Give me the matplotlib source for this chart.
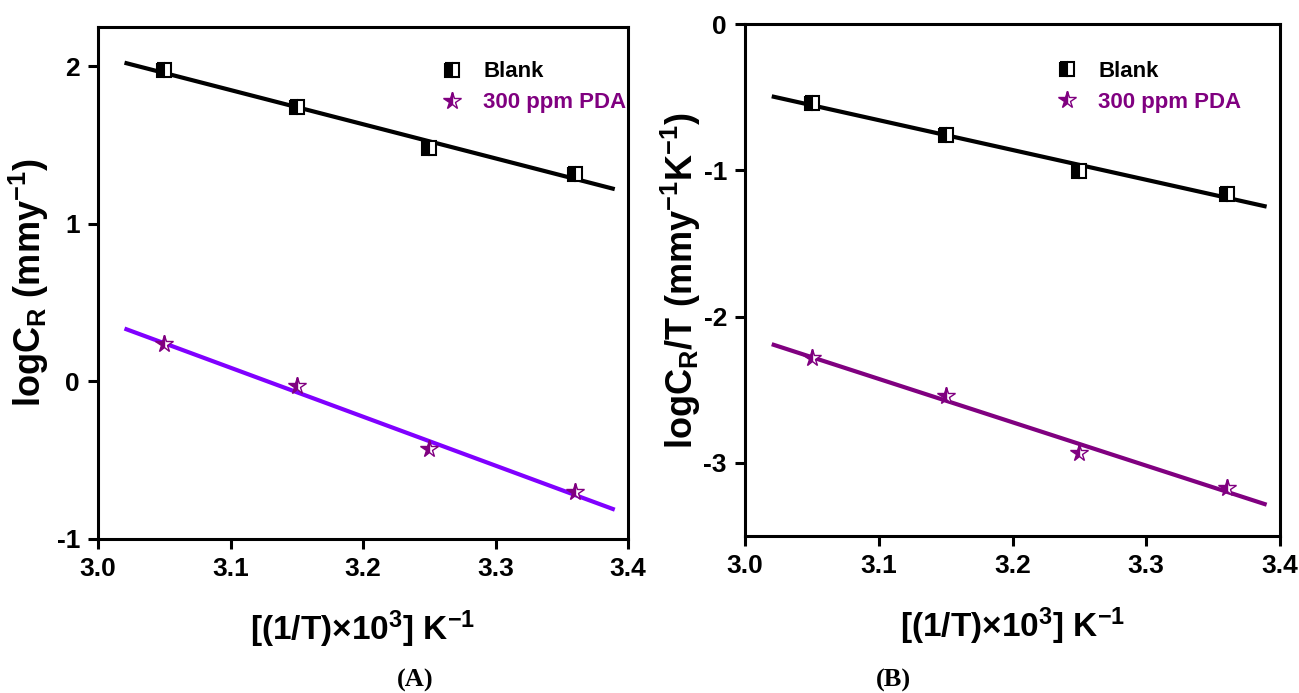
import numpy as np
import matplotlib
matplotlib.use("Agg")
import matplotlib.pyplot as plt

# ---- data ----
inv_T = [3.05, 3.15, 3.25, 3.36]
fit_range = [3.02, 3.39]

logCR_blank = [1.975, 1.74, 1.48, 1.315]
logCR_pda = [0.235, -0.03, -0.43, -0.70]

logCRT_blank = [-0.54, -0.76, -1.005, -1.16]
logCRT_pda = [-2.28, -2.54, -2.93, -3.17]

series_labels = ["Blank", "300 ppm PDA"]
xticks = [3.0, 3.1, 3.2, 3.3, 3.4]
xticklabels = ["3.0", "3.1", "3.2", "3.3", "3.4"]
yticks_A = [-1, 0, 1, 2]
yticks_B = [-3, -2, -1, 0]

FONT = ["Liberation Sans", "DejaVu Sans"]
plt.rcParams["font.family"] = FONT
plt.rcParams["font.weight"] = "bold"
plt.rcParams["mathtext.fontset"] = "custom"
plt.rcParams["mathtext.rm"] = "Liberation Sans:bold"
plt.rcParams["mathtext.bf"] = "Liberation Sans:bold"
plt.rcParams["mathtext.it"] = "Liberation Sans:bold"

BLACK = "#000000"
PURPLE = "#800080"
VIOLET = "#8000FF"

fig = plt.figure(figsize=(12.99, 6.93), dpi=100)
W, H = 1299, 693


def px_axes(left, top, right, bottom):
    return fig.add_axes([left / W, 1 - bottom / H, (right - left) / W, (bottom - top) / H])


axA = px_axes(98, 27, 628, 539)
axB = px_axes(745, 24, 1280, 536)


def draw(ax, yb, yp, line2_color, ylim, yticks, ylabel, leg_anchor, ylabelpad):
    xf = np.array(fit_range)
    for y, c in ((yb, BLACK), (yp, line2_color)):
        p = np.polyfit(inv_T, y, 1)
        ax.plot(xf, np.polyval(p, xf), color=c, lw=3.0, zorder=2, solid_capstyle="butt")
    hb, = ax.plot(inv_T, yb, linestyle="none", marker="s", markersize=10,
                  fillstyle="left", markerfacecolor=BLACK, markerfacecoloralt="white",
                  markeredgecolor=BLACK, markeredgewidth=1.5, zorder=3)
    hp, = ax.plot(inv_T, yp, linestyle="none", marker="*", markersize=13,
                  fillstyle="left", markerfacecolor=PURPLE, markerfacecoloralt="white",
                  markeredgecolor=PURPLE, markeredgewidth=1.0, zorder=3)
    ax.set_xlim(3.0, 3.4)
    ax.set_ylim(*ylim)
    ax.set_xticks(xticks)
    ax.set_xticklabels(xticklabels)
    ax.set_yticks(yticks)
    ax.set_yticklabels([str(t) for t in yticks])
    for s in ax.spines.values():
        s.set_linewidth(2.2)
    ax.tick_params(direction="out", length=7, width=2.2, labelsize=19, pad=6)
    for lab in ax.get_xticklabels() + ax.get_yticklabels():
        lab.set_fontweight("bold")
    ax.set_xlabel(r"[(1/T)$\times$10$^{3}$] K$^{-1}$", fontsize=24, fontweight="bold", labelpad=20)
    ax.set_ylabel(ylabel, fontsize=26, fontweight="bold", labelpad=ylabelpad)
    leg = ax.legend([hb, hp], series_labels, loc="upper left", bbox_to_anchor=leg_anchor,
                    frameon=False, fontsize=16, handlelength=1.0, handletextpad=0.9,
                    labelspacing=0.45, borderaxespad=0)
    for t, c in zip(leg.get_texts(), (BLACK, PURPLE)):
        t.set_color(c)
        t.set_fontweight("bold")


draw(axA, logCR_blank, logCR_pda, VIOLET, (-1, 2.25), yticks_A,
     r"logC$_{\mathregular{R}}$ (mmy$^{-1}$)", (0.63, 0.95), 4)
draw(axB, logCRT_blank, logCRT_pda, PURPLE, (-3.5, 0), yticks_B,
     r"logC$_{\mathregular{R}}$/T (mmy$^{-1}$K$^{-1}$)", (0.565, 0.945), 0)

fig.text(415 / W, 1 - 680 / H, "(A)", ha="center", va="center", fontsize=19,
         fontweight="bold", family=["Liberation Serif", "DejaVu Serif"])
fig.text(893 / W, 1 - 680 / H, "(B)", ha="center", va="center", fontsize=19,
         fontweight="bold", family=["Liberation Serif", "DejaVu Serif"])

fig.savefig("out.png", dpi=100)
